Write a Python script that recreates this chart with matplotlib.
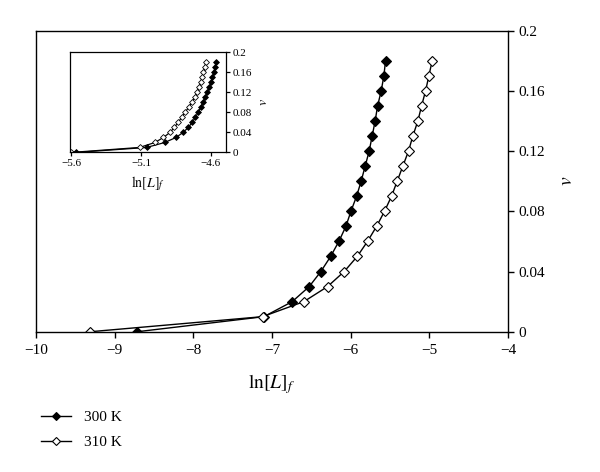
import matplotlib
matplotlib.use("Agg")
import matplotlib.pyplot as plt

plt.rcParams['font.family'] = ['Liberation Serif', 'DejaVu Serif']
plt.rcParams['mathtext.fontset'] = 'stix'

# Main chart data: v values and ln[L]_f
v_main = [0.18, 0.17, 0.16, 0.15, 0.14, 0.13, 0.12, 0.11, 0.10, 0.09,
          0.08, 0.07, 0.06, 0.05, 0.04, 0.03, 0.02, 0.01, 0.0]
lnL_300 = [-5.557, -5.578, -5.612, -5.658, -5.689, -5.727, -5.765, -5.816, -5.867, -5.925,
           -5.997, -6.061, -6.150, -6.255, -6.379, -6.527, -6.743, -7.103, -8.713]
lnL_310 = [-4.964, -5.006, -5.048, -5.099, -5.146, -5.210, -5.265, -5.337, -5.409, -5.481,
           -5.570, -5.671, -5.786, -5.917, -6.082, -6.294, -6.595, -7.12, -9.31]

# Inset data
v_inset = v_main
inset_open = [-4.638, -4.645, -4.655, -4.665, -4.675, -4.688, -4.700, -4.718, -4.737, -4.760,
              -4.786, -4.810, -4.835, -4.862, -4.893, -4.940, -5.000, -5.110, -5.600]
inset_filled = [-4.564, -4.572, -4.580, -4.590, -4.600, -4.613, -4.628, -4.643, -4.658, -4.674,
                -4.692, -4.712, -4.735, -4.762, -4.800, -4.850, -4.930, -5.060, -5.564]

labels = ['300 K', '310 K']
main_xticks = [-10, -9, -8, -7, -6, -5, -4]
main_yticks = [0, 0.04, 0.08, 0.12, 0.16, 0.2]
inset_xticks = [-5.6, -5.1, -4.6]

fig = plt.figure(figsize=(6.0, 4.72), dpi=100)
ax = fig.add_axes([0.06, 0.2972, 0.7867, 0.6378])

l1, = ax.plot(lnL_300, v_main, color='black', lw=1.0, marker='D', ms=4.8,
              mfc='black', mec='black', mew=0.8, label=labels[0])
l2, = ax.plot(lnL_310, v_main, color='black', lw=1.0, marker='D', ms=4.8,
              mfc='white', mec='black', mew=0.8, label=labels[1])

ax.set_xlim(-10, -4)
ax.set_ylim(0, 0.2)
ax.set_xticks(main_xticks)
ax.set_xticklabels(['\u2212' + str(abs(t)) for t in main_xticks])
ax.set_yticks(main_yticks)
ax.set_yticklabels(['0', '0.04', '0.08', '0.12', '0.16', '0.2'])
ax.yaxis.tick_right()
ax.yaxis.set_label_position('right')
ax.tick_params(axis='both', direction='out', length=4, width=1, labelsize=11, color='black')
ax.tick_params(axis='x', pad=5)
for s in ax.spines.values():
    s.set_linewidth(1.0)
ax.set_xlabel(r'$\mathrm{ln}[L]_f$', fontsize=14, labelpad=11)
ax.set_ylabel(r'$v$', fontsize=14, rotation=90, labelpad=10)

leg = fig.legend(handles=[l1, l2], labels=labels, loc='upper left',
                 bbox_to_anchor=(0.045, 0.16), frameon=False, fontsize=11,
                 handlelength=2.0, handletextpad=0.8, labelspacing=0.75,
                 markerscale=0.8)

# Inset
ins = fig.add_axes([0.1167, 0.677, 0.26, 0.2118])
ins.plot(inset_filled, v_inset, color='black', lw=0.9, marker='D', ms=3,
         mfc='black', mec='black', mew=0.6)
ins.plot(inset_open, v_inset, color='black', lw=0.9, marker='D', ms=3,
         mfc='white', mec='black', mew=0.6)
ins.set_xlim(-5.607, -4.493)
ins.set_ylim(0, 0.2)
ins.set_xticks(inset_xticks)
ins.set_xticklabels(['\u22125.6', '\u22125.1', '\u22124.6'])
ins.set_yticks(main_yticks)
ins.set_yticklabels(['0', '0.04', '0.08', '0.12', '0.16', '0.2'])
ins.yaxis.tick_right()
ins.yaxis.set_label_position('right')
ins.tick_params(axis='both', direction='out', length=3, width=0.9, labelsize=8, pad=2)
for s in ins.spines.values():
    s.set_linewidth(0.9)
ins.set_xlabel(r'$\mathrm{ln}[L]_f$', fontsize=10, labelpad=4)
ins.set_ylabel(r'$v$', fontsize=10, labelpad=3)

fig.savefig('out.png', dpi=100)
